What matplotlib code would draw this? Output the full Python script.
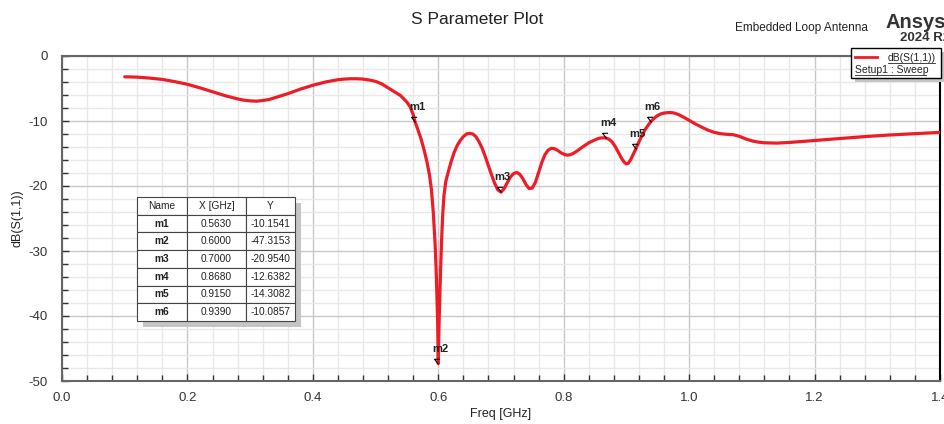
import numpy as np
import matplotlib.pyplot as plt
from matplotlib.path import Path
from matplotlib.patches import Rectangle

plt.rcParams['font.family'] = ['Liberation Sans', 'DejaVu Sans']
plt.rcParams['axes.unicode_minus'] = False

# S11 curve (GHz, dB)
freq = [0.10, 0.12, 0.14, 0.16, 0.18, 0.20, 0.22, 0.24, 0.26, 0.28, 0.29,
        0.30, 0.31, 0.32, 0.33, 0.34, 0.36, 0.38, 0.40, 0.42, 0.44, 0.45,
        0.46, 0.47, 0.48, 0.49, 0.50, 0.51, 0.52, 0.53, 0.54, 0.55, 0.555,
        0.56, 0.563, 0.567, 0.572, 0.577, 0.582, 0.586, 0.589, 0.592, 0.595,
        0.597, 0.599, 0.600, 0.601, 0.603, 0.605, 0.607, 0.609, 0.612, 0.616,
        0.62, 0.625, 0.63, 0.635, 0.64, 0.645, 0.65, 0.655, 0.66, 0.665, 0.67,
        0.675, 0.68, 0.685, 0.69, 0.695, 0.70, 0.705, 0.71, 0.715, 0.72,
        0.725, 0.73, 0.735, 0.74, 0.745, 0.75, 0.755, 0.76, 0.765, 0.77,
        0.775, 0.78, 0.785, 0.79, 0.795, 0.80, 0.805, 0.81, 0.815, 0.82,
        0.83, 0.84, 0.85, 0.855, 0.86, 0.865, 0.868, 0.872, 0.877, 0.882,
        0.887, 0.892, 0.897, 0.90, 0.903, 0.907, 0.911, 0.915, 0.92, 0.925,
        0.93, 0.935, 0.939, 0.945, 0.95, 0.955, 0.96, 0.965, 0.97, 0.975,
        0.98, 0.985, 0.99, 1.00, 1.01, 1.02, 1.03, 1.04, 1.05, 1.06, 1.07,
        1.08, 1.09, 1.10, 1.11, 1.12, 1.14, 1.16, 1.18, 1.20, 1.24, 1.28,
        1.32, 1.36, 1.40]
s11 = [-3.2, -3.25, -3.4, -3.6, -3.95, -4.35, -4.9, -5.5, -6.1, -6.6, -6.8,
       -6.9, -6.95, -6.85, -6.7, -6.4, -5.8, -5.1, -4.5, -4.0, -3.65, -3.55,
       -3.5, -3.5, -3.55, -3.7, -3.9, -4.3, -4.9, -5.5, -6.1, -7.1, -7.8,
       -9.0, -10.15, -11.2, -12.6, -14.3, -16.3, -18.3, -20.5, -24.0, -29.0,
       -34.0, -41.0, -47.3, -42.0, -35.0, -29.0, -24.5, -21.5, -19.3, -17.8,
       -16.4, -14.9, -13.8, -13.0, -12.4, -12.0, -11.9, -12.0, -12.4, -13.2,
       -14.2, -15.5, -16.9, -18.3, -19.6, -20.6, -20.95, -20.4, -19.5, -18.6,
       -18.1, -17.9, -18.2, -18.9, -19.8, -20.4, -20.3, -19.4, -17.9, -16.4,
       -15.2, -14.5, -14.2, -14.25, -14.5, -14.85, -15.1, -15.25, -15.2,
       -15.0, -14.7, -14.0, -13.35, -12.9, -12.7, -12.6, -12.6, -12.64,
       -12.8, -13.2, -13.9, -14.8, -15.7, -16.4, -16.6, -16.5, -15.9, -15.1,
       -14.3, -13.2, -12.2, -11.3, -10.6, -10.09, -9.5, -9.15, -8.9, -8.78,
       -8.72, -8.7, -8.75, -8.9, -9.1, -9.35, -9.9, -10.45, -10.95, -11.4,
       -11.75, -11.95, -12.05, -12.1, -12.35, -12.75, -13.05, -13.25, -13.35,
       -13.4, -13.3, -13.15, -13.0, -12.7, -12.4, -12.15, -11.95, -11.75]

marker_names = ['m1', 'm2', 'm3', 'm4', 'm5', 'm6']
marker_x = [0.5630, 0.6000, 0.7000, 0.8680, 0.9150, 0.9390]
marker_y = [-10.1541, -47.3153, -20.9540, -12.6382, -14.3082, -10.0857]

fig = plt.figure(figsize=(9.44, 4.24), dpi=100)
ax = fig.add_axes([62 / 944, 43 / 424, 878 / 944, 325 / 424])

ax.plot(freq, s11, color='#ee1c25', lw=2.3, solid_joinstyle='round',
        solid_capstyle='round', zorder=3)

# marker flags
flag = Path([(-0.75, 1), (0, 0), (-0.75, 1), (0.3, 1)],
            [Path.MOVETO, Path.LINETO, Path.MOVETO, Path.LINETO])
for name, mx, my in zip(marker_names, marker_x, marker_y):
    ax.plot([mx], [my], marker=flag, ms=7.5, mfc='none', mec='black', mew=0.8,
            zorder=4)
    ax.annotate(name, (mx, my), xytext=(-4.5, 7), textcoords='offset points',
                ha='left', va='bottom', fontsize=8, fontweight='bold',
                color='#222222', zorder=5)

ax.set_xlim(0, 1.4)
ax.set_ylim(-50, 0)
ax.set_xticks(np.arange(0, 1.41, 0.2))
ax.set_xticks(np.arange(0, 1.41, 0.04), minor=True)
ax.set_yticks(np.arange(-50, 1, 10))
ax.set_yticks(np.arange(-50, 1, 2), minor=True)
ax.set_xticklabels(['0.0', '0.2', '0.4', '0.6', '0.8', '1.0', '1.2', '1.4'])
ax.grid(which='major', color='#c8c8c8', lw=1.0)
ax.grid(which='minor', color='#e8e8e8', lw=1.0)
ax.set_axisbelow(True)
ax.tick_params(which='both', direction='in', colors='#333333', labelsize=9.5,
               top=False, right=False)
ax.tick_params(which='major', length=5, width=1)
ax.tick_params(which='minor', length=4, width=1)
ax.tick_params(axis='x', which='major', pad=8)
ax.tick_params(axis='y', which='major', pad=10)
for side in ['left', 'bottom', 'top']:
    ax.spines[side].set_color('#666666')
    ax.spines[side].set_linewidth(1.5)
ax.spines['right'].set_color('black')
ax.spines['right'].set_linewidth(1.5)

ax.set_xlabel('Freq [GHz]', fontsize=9, color='#222222', labelpad=3)
ax.set_ylabel('dB(S(1,1))', fontsize=9, color='#222222', labelpad=4)

# marker table
tx0, tx1 = (137 - 62) / 878, (295 - 62) / 878
ty0, ty1 = (381 - 321) / 325, (381 - 197) / 325
ax.add_patch(Rectangle((tx0 + 6 / 878, ty0 - 6 / 325), tx1 - tx0, ty1 - ty0,
                       transform=ax.transAxes, facecolor='#c4c4c4',
                       edgecolor='none', zorder=5))
rows = [[n, f'{x:.4f}', f'{y:.4f}'] for n, x, y in zip(marker_names, marker_x, marker_y)]
tab = ax.table(cellText=rows, colLabels=['Name', 'X [GHz]', 'Y'],
               cellLoc='center', bbox=[tx0, ty0, tx1 - tx0, ty1 - ty0],
               colWidths=[50, 59, 49], zorder=6)
tab.auto_set_font_size(False)
for (r, c), cell in tab.get_celld().items():
    cell.set_facecolor('white')
    cell.set_edgecolor('#444444')
    cell.set_linewidth(0.8)
    cell.get_text().set_fontsize(7.3)
    cell.get_text().set_color('#222222')
    if c == 0 and r > 0:
        cell.get_text().set_fontweight('bold')

# titles and branding
fig.text(477 / 944, 1 - 20 / 424, 'S Parameter Plot', ha='center', va='center',
         fontsize=12.5, color='#222222')
fig.text(735 / 944, 1 - 28 / 424, 'Embedded Loop Antenna', ha='left',
         va='center', fontsize=8.5, color='#222222')
fig.text(886 / 944, 1 - 22 / 424, 'Ansys', ha='left', va='center',
         fontsize=14.5, fontweight='bold', color='#333333')
fig.text(900 / 944, 1 - 38 / 424, '2024 R2', ha='left', va='center',
         fontsize=9.5, fontweight='bold', color='#333333')

# legend box
fig.patches.append(Rectangle((855 / 944, 1 - 82 / 424), 92 / 944, 30 / 424,
                             transform=fig.transFigure, facecolor='#c4c4c4',
                             edgecolor='none', zorder=7))
fig.patches.append(Rectangle((851 / 944, 1 - 78 / 424), 90 / 944, 30 / 424,
                             transform=fig.transFigure, facecolor='white',
                             edgecolor='black', lw=1, zorder=8))
fig.lines.append(plt.Line2D([855 / 944, 877 / 944], [1 - 57 / 424, 1 - 57 / 424],
                            transform=fig.transFigure, color='#ee1c25', lw=2,
                            zorder=9))
fig.text(888 / 944, 1 - 58 / 424, 'dB(S(1,1))', ha='left', va='center',
         fontsize=7.5, color='#222222', zorder=9)
fig.text(855 / 944, 1 - 70 / 424, 'Setup1 : Sweep', ha='left', va='center',
         fontsize=7.5, color='#222222', zorder=9)
fig.lines.append(plt.Line2D([888 / 944, 935 / 944], [1 - 63 / 424, 1 - 63 / 424],
                            transform=fig.transFigure, color='#222222', lw=0.6,
                            zorder=9))
fig.lines.append(plt.Line2D([855 / 944, 926 / 944], [1 - 75 / 424, 1 - 75 / 424],
                            transform=fig.transFigure, color='#222222', lw=0.6,
                            zorder=9))

fig.savefig('out.png', dpi=100)
